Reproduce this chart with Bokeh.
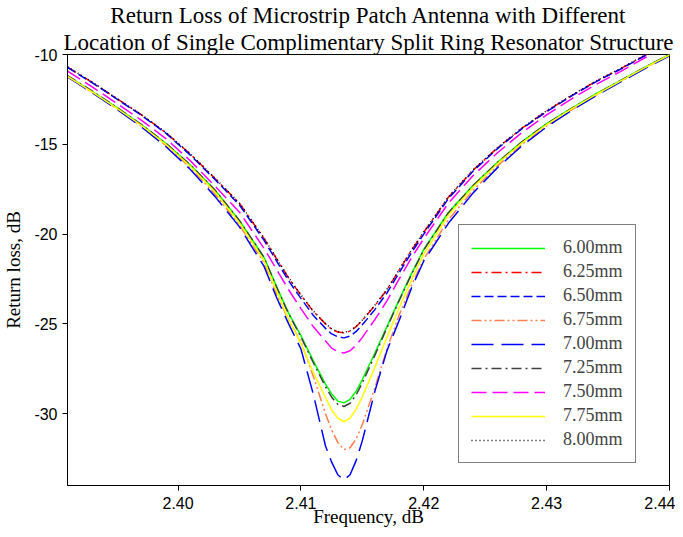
from bokeh.plotting import figure
from bokeh.models import (FixedTicker, NumeralTickFormatter, PrintfTickFormatter, Title,
                          Legend, LegendItem)
from bokeh.embed import file_html
from bokeh.resources import INLINE

# ---------------- data ----------------
freq = [2.391, 2.393, 2.395, 2.397, 2.399, 2.401, 2.403, 2.405, 2.407, 2.408,
        2.409, 2.410, 2.411, 2.412, 2.4125, 2.413, 2.4135, 2.414, 2.4145, 2.415,
        2.416, 2.417, 2.418, 2.419, 2.420, 2.422, 2.424, 2.426, 2.428, 2.430,
        2.432, 2.434, 2.436, 2.438, 2.440]

rl_600 = [-11.20, -12.05, -12.95, -13.90, -14.95, -16.15, -17.55, -19.25, -21.30, -22.90,
          -24.40, -25.65, -27.05, -28.35, -28.90, -29.30, -29.40, -29.20, -28.75, -28.10,
          -26.65, -25.15, -23.65, -22.20, -20.85, -18.80, -17.30, -16.00, -14.85, -13.85,
          -13.00, -12.20, -11.45, -10.70, -10.00]
rl_625 = [-10.70, -11.55, -12.45, -13.35, -14.35, -15.55, -16.90, -18.30, -20.25, -21.35,
          -22.45, -23.40, -24.30, -25.00, -25.30, -25.45, -25.50, -25.40, -25.15, -24.80,
          -24.00, -23.10, -22.00, -20.90, -19.90, -17.95, -16.45, -15.20, -14.10, -13.15,
          -12.30, -11.50, -10.80, -10.05, -9.35]
rl_650 = [-10.72, -11.57, -12.47, -13.38, -14.38, -15.60, -16.96, -18.38, -20.35, -21.48,
          -22.60, -23.58, -24.52, -25.25, -25.56, -25.72, -25.78, -25.68, -25.42, -25.05,
          -24.22, -23.28, -22.15, -21.03, -20.00, -18.03, -16.50, -15.24, -14.13, -13.18,
          -12.32, -11.52, -10.82, -10.07, -9.37]
rl_675 = [-11.24, -12.10, -13.01, -13.98, -15.06, -16.30, -17.76, -19.50, -21.60, -23.30,
          -24.80, -26.00, -27.90, -30.00, -30.90, -31.60, -32.00, -31.90, -31.40, -30.60,
          -28.60, -26.40, -24.50, -22.85, -21.40, -19.20, -17.58, -16.20, -15.00, -13.97,
          -13.09, -12.27, -11.51, -10.75, -10.04]
rl_700 = [-11.25, -12.12, -13.04, -14.02, -15.12, -16.40, -17.90, -19.60, -21.80, -23.50,
          -25.00, -26.40, -28.90, -31.80, -32.70, -33.40, -33.70, -33.40, -32.60, -31.50,
          -28.80, -26.50, -24.80, -23.00, -21.50, -19.40, -17.72, -16.30, -15.08, -14.03,
          -13.13, -12.30, -11.54, -10.78, -10.07]
rl_725 = [-11.18, -12.03, -12.94, -13.89, -14.94, -16.14, -17.55, -19.25, -21.30, -22.92,
          -24.45, -25.72, -27.15, -28.50, -29.08, -29.48, -29.60, -29.42, -28.95, -28.28,
          -26.78, -25.22, -23.70, -22.24, -20.88, -18.82, -17.31, -16.01, -14.86, -13.86,
          -13.01, -12.21, -11.46, -10.71, -10.01]
rl_750 = [-10.92, -11.80, -12.72, -13.65, -14.68, -15.92, -17.32, -18.78, -20.80, -21.95,
          -23.10, -24.15, -25.15, -25.95, -26.35, -26.55, -26.62, -26.50, -26.18, -25.75,
          -24.78, -23.72, -22.50, -21.32, -20.25, -18.28, -16.75, -15.47, -14.34, -13.36,
          -12.48, -11.67, -10.95, -10.18, -9.48]
rl_775 = [-11.22, -12.08, -12.98, -13.94, -15.00, -16.22, -17.65, -19.38, -21.48, -23.15,
          -24.75, -26.10, -27.70, -29.10, -29.80, -30.25, -30.45, -30.25, -29.75, -29.05,
          -27.45, -25.75, -24.10, -22.55, -21.10, -18.95, -17.40, -16.08, -14.92, -13.90,
          -13.04, -12.24, -11.48, -10.73, -10.03]
rl_800 = [-10.68, -11.53, -12.44, -13.34, -14.33, -15.53, -16.88, -18.28, -20.22, -21.33,
          -22.43, -23.38, -24.28, -24.98, -25.28, -25.44, -25.48, -25.38, -25.13, -24.78,
          -23.98, -23.08, -21.98, -20.88, -19.88, -17.93, -16.43, -15.18, -14.08, -13.13,
          -12.28, -11.48, -10.78, -10.03, -9.33]

labels = ["6.00mm", "6.25mm", "6.50mm", "6.75mm", "7.00mm",
          "7.25mm", "7.50mm", "7.75mm", "8.00mm"]
series = [rl_600, rl_625, rl_650, rl_675, rl_700, rl_725, rl_750, rl_775, rl_800]

x_ticks = [2.40, 2.41, 2.42, 2.43, 2.44]
y_ticks = [-30, -25, -20, -15, -10]

title_line1 = "Return Loss of Microstrip Patch Antenna with Different"
title_line2 = "Location of Single Complimentary Split Ring Resonator Structure"
x_title = "Frequency, dB"
y_title = "Return loss, dB"

# ---------------- styles ----------------
colors = ["#00FF00", "#FF0000", "#0000FF", "#FF7F50", "#0000FF",
          "#404040", "#FF00FF", "#FFFF00", "#000000"]
dashes = ["solid", "10 4 2 4", "9 4", "10 3 2 3 2 3", "22 8",
          "10 4 2 4", "15 6", "solid", "1 3"]

SERIF = "Liberation Serif"
SANS = "Liberation Sans"

p = figure(width=675, height=529, output_backend="svg", toolbar_location=None,
           x_range=(2.391, 2.44), y_range=(-34, -10),
           min_border_left=10, min_border_right=6, min_border_top=0, min_border_bottom=0)

p.add_layout(Title(text=title_line2, align="center", text_font=SERIF, text_font_size="23px",
                   text_font_style="normal", text_color="black", standoff=0), "above")
p.add_layout(Title(text=title_line1, align="center", text_font=SERIF, text_font_size="23px",
                   text_font_style="normal", text_color="black", standoff=0), "above")

items = []
for lab, ys, c, d in zip(labels, series, colors, dashes):
    r = p.line(freq, ys, line_color=c, line_width=1.5, line_dash=d)
    items.append(LegendItem(label=lab, renderers=[r]))

legend = Legend(items=items, location=(391, 22),
                label_text_font=SERIF, label_text_font_size="18px",
                glyph_width=74, glyph_height=20, label_height=20, label_standoff=18,
                spacing=3, padding=12, margin=0,
                border_line_color="black", border_line_width=1,
                background_fill_color="white", background_fill_alpha=1.0)
p.add_layout(legend)

p.xgrid.visible = False
p.ygrid.visible = False
p.outline_line_color = "black"
p.outline_line_width = 1

for ax in (p.xaxis[0], p.yaxis[0]):
    ax.major_tick_in = 0
    ax.major_tick_out = 5
    ax.minor_tick_in = 0
    ax.minor_tick_out = 0
    ax.axis_line_color = "black"
    ax.major_tick_line_color = "black"
    ax.major_label_text_font = SANS
    ax.major_label_text_font_size = "16px"
    ax.major_label_text_color = "black"
    ax.axis_label_text_font = SERIF
    ax.axis_label_text_font_size = "19px"
    ax.axis_label_text_font_style = "normal"
    ax.axis_label_text_color = "black"

p.xaxis.ticker = FixedTicker(ticks=x_ticks)
p.yaxis.ticker = FixedTicker(ticks=y_ticks)
p.xaxis.formatter = NumeralTickFormatter(format="0.00")
p.yaxis.formatter = PrintfTickFormatter(format="%d")
p.xaxis.axis_label = x_title
p.yaxis.axis_label = y_title
p.xaxis.major_label_standoff = 6
p.xaxis.axis_label_standoff = -6
p.yaxis.major_label_standoff = 5
p.yaxis.axis_label_standoff = 7

open("out.html", "w").write(file_html(p, INLINE))
